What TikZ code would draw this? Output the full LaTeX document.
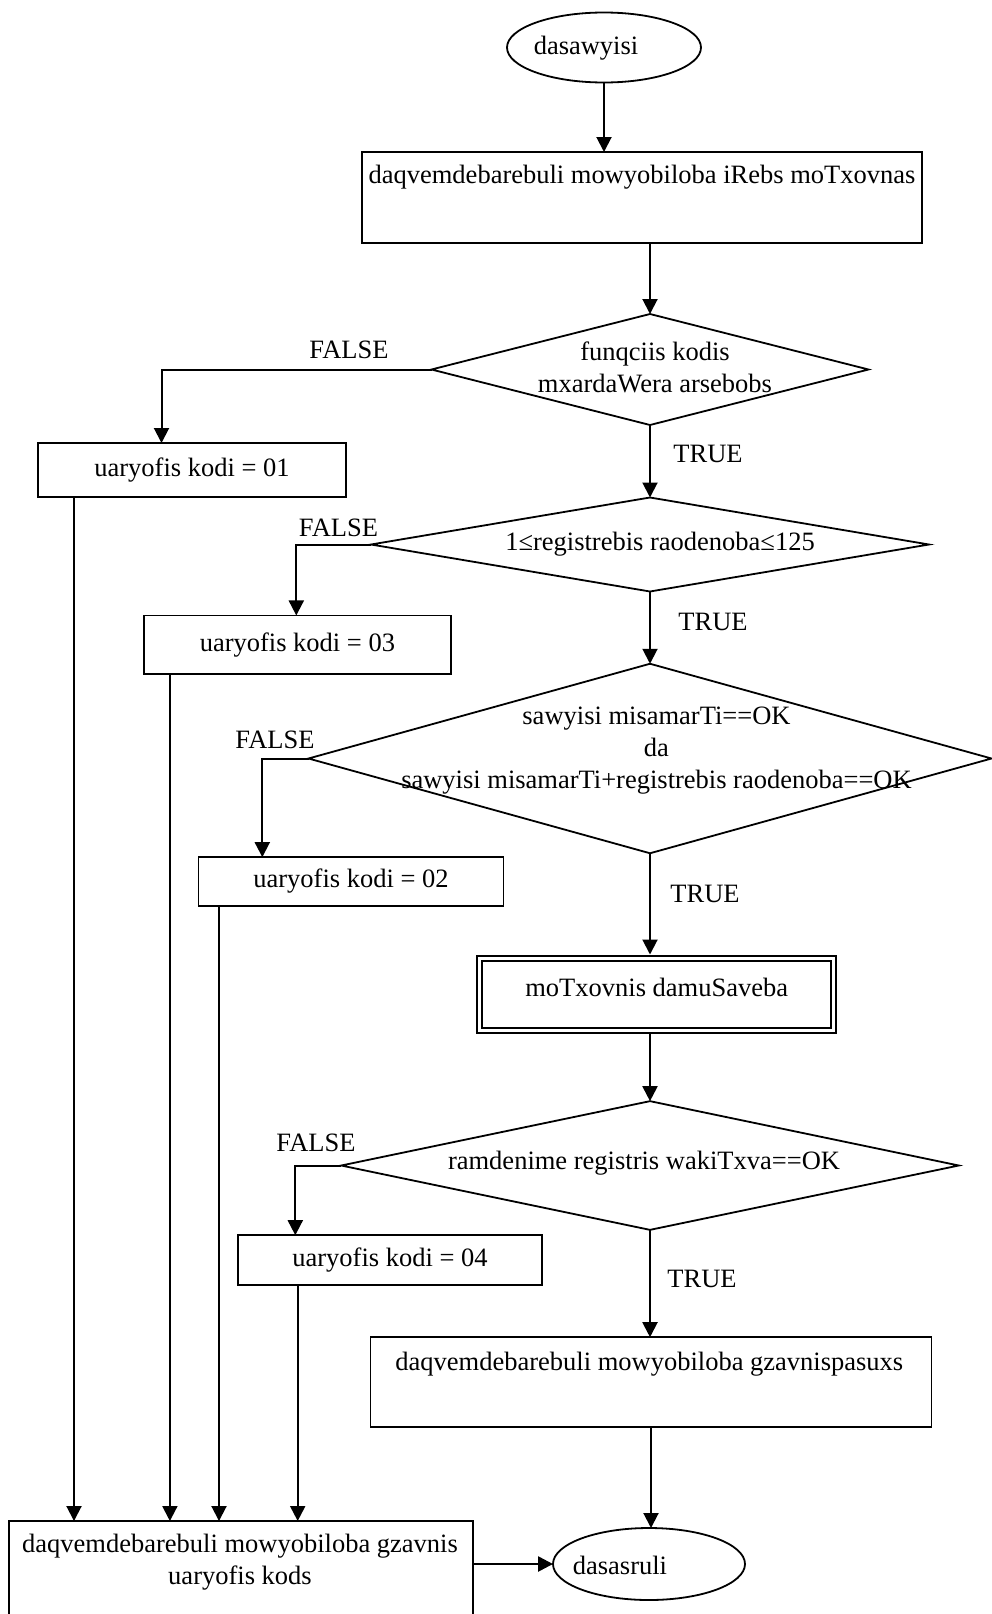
\documentclass[tikz,border=0pt]{standalone}
\usepackage{fontspec}
\setmainfont{Liberation Serif}
\usetikzlibrary{shapes.geometric,arrows.meta}

\begin{document}
\begin{tikzpicture}[x=1pt,y=-1pt,
  every node/.style={font=\fontsize{26.5}{32}\selectfont},
  box/.style={draw,line width=1.8pt,rectangle,inner sep=0pt,outer sep=0pt},
  term/.style={draw,line width=1.8pt,ellipse,inner sep=0pt,outer sep=0pt},
  cond/.style={draw,line width=1.8pt,diamond,inner sep=0pt,outer sep=0pt},
  dbox/.style={draw,line width=2pt,double,double distance=3pt,rectangle,inner sep=0pt,outer sep=3.5pt},
  txt/.style={inner sep=0pt,align=center},
  lbl/.style={inner sep=0pt},
  flow/.style={line width=2pt,-{Triangle[length=15pt,width=15pt]}}
]
\useasboundingbox (0,0) rectangle (992,1614);

% start and request
\node[term,minimum width=194pt,minimum height=70pt] (start) at (604,47.5) {};
\node[txt] (startT) at (586,48) {dasawyisi};
\node[box,minimum width=560pt,minimum height=91pt] (req) at (642,197.5) {};
\node[txt] (reqT) at (642,177) {daqvemdebarebuli mowyobiloba iRebs moTxovnas};

% decision 1: function code
\node[cond,minimum width=437pt,minimum height=111pt] (c1) at (650,369.5) {};
\node[txt] (c1T) at (655,367) {funqciis kodis\\mxardaWera arsebobs};
\node[lbl] (f1) at (349,350) {FALSE};
\node[lbl] (t1) at (708,454) {TRUE};
\node[box,minimum width=308pt,minimum height=54pt] (e01) at (192,470) {uaryofis kodi = 01};

% decision 2: register count
\node[cond,minimum width=558pt,minimum height=94pt] (c2) at (650,544.5) {};
\node[txt] (c2T) at (660,544.5) {1≤registrebis raodenoba≤125};
\node[lbl] (f2) at (338.5,528) {FALSE};
\node[lbl] (t2) at (713,622) {TRUE};
\node[box,minimum width=307pt,minimum height=58.5pt] (e03) at (297.4,644.7) {uaryofis kodi = 03};

% decision 3: address range
\node[cond,minimum width=683pt,minimum height=189.5pt] (c3) at (650,758.5) {};
\node[txt] (c3T) at (656.5,751) {sawyisi misamarTi==OK\\da\\sawyisi misamarTi+registrebis raodenoba==OK};
\node[lbl] (f3) at (275,740) {FALSE};
\node[lbl] (t3) at (705,894) {TRUE};
\node[box,minimum width=305pt,minimum height=48.5pt] (e02) at (351,881.4) {uaryofis kodi = 02};

% request processing
\node[dbox,minimum width=354.5pt,minimum height=72pt] (dbl) at (656.7,994) {};
\node[txt] (dblT) at (656.7,987) {moTxovnis damuSaveba};

% decision 4: register read
\node[cond,minimum width=617.5pt,minimum height=128.7pt] (c4) at (650,1165.5) {};
\node[txt] (c4T) at (644,1163.5) {ramdenime registris wakiTxva==OK};
\node[lbl] (f4) at (316,1142.5) {FALSE};
\node[lbl] (t4) at (702,1278.5) {TRUE};
\node[box,minimum width=304.6pt,minimum height=49.6pt] (e04) at (390,1260) {uaryofis kodi = 04};

% response and end
\node[box,minimum width=561pt,minimum height=89.6pt] (resp) at (651,1382) {};
\node[txt] (respT) at (649.3,1364) {daqvemdebarebuli mowyobiloba gzavnispasuxs};
\node[term,minimum width=192pt,minimum height=72pt] (fin) at (649,1564) {};
\node[txt] (finT) at (620,1565) {dasasruli};

% error response
\node[box,minimum width=464pt,minimum height=119pt] (rej) at (241,1580.5) {};
\node[txt] (rejT) at (240,1562.3) {daqvemdebarebuli mowyobiloba gzavnis\\uaryofis kods};

% main flow
\draw[flow] (start.south) -- (start.south |- req.north);
\draw[flow] (c1.north |- req.south) -- (c1.north);
\draw[flow] (c1.south) -- (c2.north);
\draw[flow] (c2.south) -- (c3.north);
\draw[flow] (c3.south) -- (c3.south |- dbl.north);
\draw[flow] (dbl.south -| c4.north) -- (c4.north);
\draw[flow] (c4.south) -- (c4.south |- resp.north);
\draw[flow] (resp.south) -- (resp.south |- fin.north);

% false branches
\draw[flow] (c1.west) -| ([xshift=123.5pt]e01.north west);
\draw[flow] (c2.west) -| ([xshift=152.4pt]e03.north west);
\draw[flow] (c3.west) -| ([xshift=63.8pt]e02.north west);
\draw[flow] (c4.west) -| ([xshift=57.6pt]e04.north west);

% error codes down to the error response
\coordinate (v1) at ([xshift=36pt]e01.south west);
\coordinate (v3) at ([xshift=26pt]e03.south west);
\coordinate (v2) at ([xshift=20.5pt]e02.south west);
\coordinate (v4) at ([xshift=60pt]e04.south west);
\draw[flow] (v1) -- (v1 |- rej.north);
\draw[flow] (v3) -- (v3 |- rej.north);
\draw[flow] (v2) -- (v2 |- rej.north);
\draw[flow] (v4) -- (v4 |- rej.north);
\draw[flow,line width=2.6pt] (fin.west -| rej.east) -- (fin.west);
\end{tikzpicture}
\end{document}
